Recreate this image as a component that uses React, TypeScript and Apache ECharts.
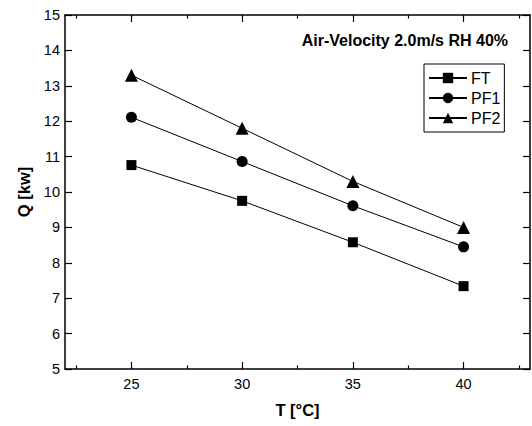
import React, { useEffect, useRef } from "react";
import * as echarts from "echarts";

const temps = [25, 30, 35, 40];
const ft = [10.76, 9.75, 8.58, 7.34];
const pf1 = [12.11, 10.86, 9.61, 8.45];
const pf2 = [13.3, 11.8, 10.3, 9.0];
const xMajorTicks = [25, 30, 35, 40];
const xMinorTicks = [22.5, 27.5, 32.5, 37.5, 42.5];
const seriesNames = ["FT", "PF1", "PF2"];
const symbols = ["rect", "circle", "triangle"];
const symbolSizes = [10, 11, 13];
const chartTitle = "Air-Velocity 2.0m/s RH 40%";
const xName = "T [°C]";
const yName = "Q [kw]";

export default function App() {
  const ref = useRef<HTMLDivElement>(null);
  useEffect(() => {
    const chart = echarts.init(ref.current!, null, { renderer: "svg" });
    const font = "'Liberation Sans', Arial, Helvetica, sans-serif";
    const lineStyle = { color: "#000", width: 1.5 };
    const xAxisBase = (position: string, ticks: number[], len: number, showLine: boolean, showLabel: boolean, extra: any = {}) => ({
      type: "value",
      gridIndex: 0,
      min: 22,
      max: 43,
      position,
      axisLine: { show: showLine, onZero: false, lineStyle },
      axisTick: { show: true, inside: true, length: len, customValues: ticks, lineStyle: { color: "#000", width: 1.2 } },
      axisLabel: showLabel
        ? { show: true, customValues: ticks, color: "#000", fontSize: 14.5, fontFamily: font, margin: 7 }
        : { show: false },
      splitLine: { show: false },
      ...extra,
    });
    const dataSets = [ft, pf1, pf2];
    chart.setOption({
      animation: false,
      backgroundColor: "#fff",
      title: {
        text: chartTitle,
        right: 24,
        top: 32,
        padding: 0,
        textStyle: { fontSize: 16, fontWeight: "bold", color: "#000", fontFamily: font },
      },
      legend: {
        orient: "vertical",
        left: 424,
        top: 64,
        padding: [6, 4, 6, 4],
        itemWidth: 38,
        itemHeight: 13,
        itemGap: 4,
        borderColor: "#000",
        borderWidth: 1,
        textStyle: { fontSize: 16, color: "#000", fontFamily: font, padding: [0, 0, 0, -1] },
        data: seriesNames,
      },
      grid: { left: 65, right: 2, top: 15, bottom: 57, containLabel: false },
      xAxis: [
        xAxisBase("bottom", xMajorTicks, 7, true, true, {
          name: xName,
          nameLocation: "middle",
          nameGap: 32,
          nameTextStyle: { fontSize: 16.5, fontWeight: "bold", color: "#000", fontFamily: font },
        }),
        xAxisBase("bottom", xMinorTicks, 3.5, false, false),
        xAxisBase("top", xMajorTicks, 7, true, false),
        xAxisBase("top", xMinorTicks, 3.5, false, false),
      ],
      yAxis: [
        {
          type: "value",
          min: 5,
          max: 15,
          interval: 1,
          position: "left",
          axisLine: { show: true, onZero: false, lineStyle },
          axisTick: { show: true, inside: true, length: 7, lineStyle: { color: "#000", width: 1.2 } },
          axisLabel: { color: "#000", fontSize: 14.5, fontFamily: font, margin: 5 },
          splitLine: { show: false },
          name: yName,
          nameLocation: "middle",
          nameGap: 33,
          nameTextStyle: { fontSize: 16.5, fontWeight: "bold", color: "#000", fontFamily: font },
        },
        {
          type: "value",
          min: 5,
          max: 15,
          interval: 1,
          position: "right",
          axisLine: { show: true, onZero: false, lineStyle },
          axisTick: { show: true, inside: true, length: 7, lineStyle: { color: "#000", width: 1.2 } },
          axisLabel: { show: false },
          splitLine: { show: false },
        },
      ],
      series: seriesNames.map((name, si) => ({
        name,
        type: "line",
        xAxisIndex: 0,
        yAxisIndex: 0,
        data: temps.map((t, i) => [t, dataSets[si][i]]),
        symbol: symbols[si],
        symbolSize: symbolSizes[si],
        showAllSymbol: true,
        itemStyle: { color: "#000" },
        lineStyle: { color: "#000", width: 1 },
        emphasis: { disabled: true },
      })),
    });
    return () => chart.dispose();
  }, []);
  return <div ref={ref} style={{ position: "fixed", left: 0, top: 0, width: 532, height: 426 }} />;
}
